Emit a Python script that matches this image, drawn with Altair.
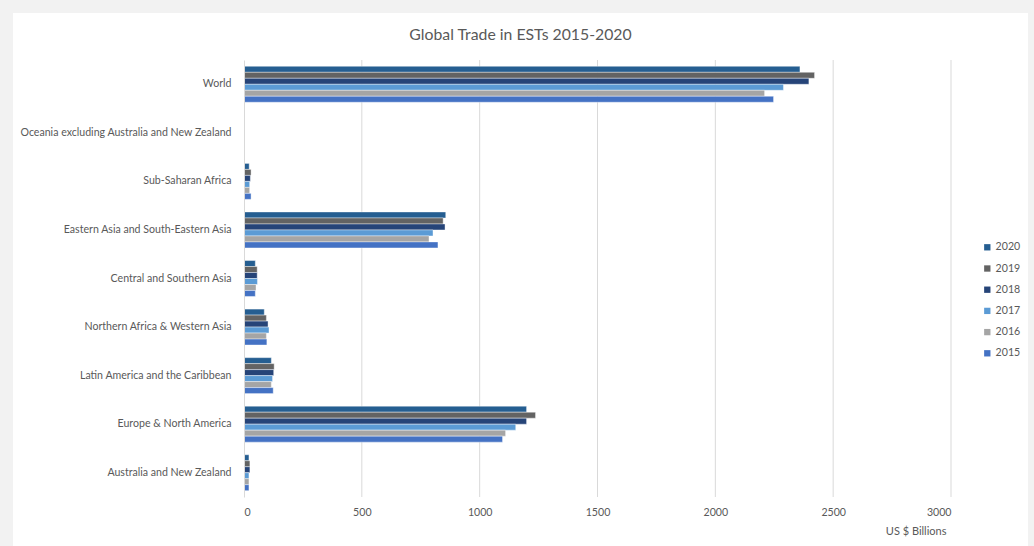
import altair as alt
import pandas as pd

regions = [
    "World",
    "Oceania excluding Australia and New Zealand",
    "Sub-Saharan Africa",
    "Eastern Asia and South-Eastern Asia",
    "Central and Southern Asia",
    "Northern Africa & Western Asia",
    "Latin America and the Caribbean",
    "Europe & North America",
    "Australia and New Zealand",
]
years = ["2020", "2019", "2018", "2017", "2016", "2015"]
colors = ["#255e91", "#636363", "#264478", "#5b9bd5", "#a5a5a5", "#4472c4"]
ticks = [0, 500, 1000, 1500, 2000, 2500, 3000]

v2020 = [2359, 0, 22, 856, 48, 86, 116, 1199, 21]
v2019 = [2421, 0, 30, 845, 56, 95, 128, 1237, 25]
v2018 = [2397, 0, 27, 853, 56, 102, 126, 1199, 25]
v2017 = [2289, 0, 24, 802, 57, 106, 121, 1153, 21]
v2016 = [2209, 0, 24, 785, 51, 95, 116, 1110, 21]
v2015 = [2247, 0, 30, 823, 48, 97, 124, 1097, 21]

series = [v2020, v2019, v2018, v2017, v2016, v2015]
rows = []
for y, vals in zip(years, series):
    for r, v in zip(regions, vals):
        rows.append({"Region": r, "Year": y, "Value": v})
df = pd.DataFrame(rows)

FONT = "Lato"
GREY = "#595959"

xscale = alt.Scale(domain=[0, 3000], nice=False)
xaxis = alt.Axis(
    values=ticks, ticks=False, grid=False, format="d",
    labelPadding=10, labelFontSize=10.6, labelColor=GREY, labelFont=FONT,
    domain=False, zindex=1,
    title="US $ Billions", titleFont=FONT, titleFontSize=11,
    titleFontWeight="normal", titleColor=GREY, titleX=702, titleY=28,
    titleAlign="right",
)

panel = alt.Chart(pd.DataFrame({"a": [0]})).mark_rect(color="white").encode(
    x=alt.value(-231), x2=alt.value(784), y=alt.value(-47), y2=alt.value(520)
)

grid = alt.Chart(pd.DataFrame({"Value": ticks[1:]})).mark_rule(
    color="#d9d9d9", strokeWidth=1
).encode(x=alt.X("Value:Q", scale=xscale, axis=xaxis))

bars = alt.Chart(df).mark_bar(stroke="white", strokeWidth=0.4).encode(
    y=alt.Y(
        "Region:N",
        sort=regions,
        scale=alt.Scale(paddingInner=0.26, paddingOuter=0.13),
        axis=alt.Axis(
            title=None, ticks=False, labelPadding=13, labelFontSize=10.6,
            labelColor=GREY, labelFont=FONT, domainColor="#d9d9d9", grid=False,
            labelLimit=300, zindex=1,
        ),
    ),
    x=alt.X("Value:Q", scale=xscale, axis=xaxis),
    yOffset=alt.YOffset("Year:N", sort=years),
    color=alt.Color(
        "Year:N",
        sort=years,
        scale=alt.Scale(domain=years, range=colors),
        legend=alt.Legend(
            title=None, orient="none", legendX=738, legendY=182,
            symbolType="square", symbolSize=40, symbolStrokeWidth=0,
            labelFontSize=10.6, labelColor=GREY, labelFont=FONT, rowPadding=10.2,
            labelOffset=3, zindex=1,
        ),
    ),
)

chart = alt.layer(panel, grid, bars).properties(
    width=707,
    height=437,
    autosize=alt.AutoSizeParams(type="none"),
    padding={"left": 244, "top": 60, "right": 83, "bottom": 49},
    title=alt.TitleParams(
        "Global Trade in ESTs 2015-2020", fontSize=15.8, font=FONT,
        fontWeight="normal", color=GREY, dx=-77, offset=-31, zindex=1,
        anchor="middle", frame="group",
    ),
).configure(background="#f2f2f2").configure_view(stroke=None)

chart.save("out.html", embed_options={"renderer": "svg", "actions": False})
